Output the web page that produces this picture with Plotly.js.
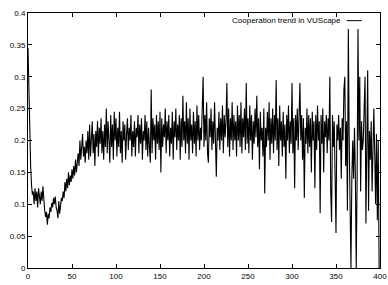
<!DOCTYPE html>
<html>
<head>
<meta charset="utf-8">
<script src="https://cdn.plot.ly/plotly-3.0.1.min.js"></script>
<style>html,body{margin:0;padding:0;background:#fff;}#chart{width:388px;height:285px;}</style>
</head>
<body>
<div id="chart"></div>
<script>
// Cooperation level per generation
var cooperation = [
  0.345, 0.27, 0.2, 0.16, 0.13, 0.115, 0.12, 0.1, 0.125, 0.105,
  0.12, 0.095, 0.125, 0.11, 0.1, 0.12, 0.105, 0.128, 0.1, 0.09,
  0.08, 0.088, 0.068, 0.085, 0.078, 0.095, 0.088, 0.102, 0.095, 0.11,
  0.1, 0.112, 0.095, 0.09, 0.078, 0.105, 0.085, 0.1, 0.11, 0.105,
  0.12, 0.11, 0.135, 0.12, 0.14, 0.125, 0.15, 0.13, 0.145, 0.135,
  0.155, 0.14, 0.16, 0.145, 0.17, 0.15, 0.165, 0.18, 0.16, 0.2,
  0.17, 0.185, 0.21, 0.175, 0.19, 0.165, 0.2, 0.18, 0.215, 0.17,
  0.225, 0.175, 0.2, 0.23, 0.18, 0.21, 0.16, 0.215, 0.19, 0.23,
  0.175, 0.22, 0.195, 0.235, 0.18, 0.215, 0.17, 0.225, 0.19, 0.25,
  0.18, 0.23, 0.2, 0.165, 0.24, 0.19, 0.225, 0.17, 0.245, 0.2,
  0.235, 0.175, 0.22, 0.19, 0.245, 0.18, 0.215, 0.165, 0.23, 0.2,
  0.225, 0.17, 0.21, 0.235, 0.185, 0.22, 0.2, 0.24, 0.175, 0.215,
  0.19, 0.23, 0.175, 0.22, 0.205, 0.24, 0.18, 0.225, 0.195, 0.235,
  0.17, 0.215, 0.2, 0.24, 0.185, 0.23, 0.175, 0.22, 0.19, 0.165,
  0.28, 0.18, 0.235, 0.2, 0.225, 0.17, 0.24, 0.195, 0.23, 0.185,
  0.245, 0.15, 0.235, 0.19, 0.225, 0.205, 0.25, 0.18, 0.23, 0.2,
  0.24, 0.175, 0.22, 0.195, 0.245, 0.17, 0.23, 0.205, 0.25, 0.185,
  0.225, 0.2, 0.24, 0.17, 0.235, 0.19, 0.27, 0.2, 0.23, 0.18,
  0.26, 0.195, 0.235, 0.17, 0.25, 0.2, 0.225, 0.18, 0.245, 0.195,
  0.23, 0.175, 0.255, 0.2, 0.24, 0.185, 0.22, 0.2, 0.25, 0.3,
  0.19, 0.24, 0.2, 0.26, 0.18, 0.165, 0.235, 0.205, 0.25, 0.185,
  0.23, 0.195, 0.26, 0.175, 0.143, 0.22, 0.2, 0.245, 0.185, 0.235,
  0.2, 0.255, 0.18, 0.24, 0.205, 0.23, 0.29, 0.19, 0.25, 0.175,
  0.235, 0.2, 0.26, 0.185, 0.24, 0.2, 0.23, 0.175, 0.255, 0.2,
  0.24, 0.19, 0.26, 0.18, 0.235, 0.205, 0.25, 0.185, 0.29, 0.195,
  0.235, 0.18, 0.255, 0.2, 0.24, 0.17, 0.23, 0.195, 0.25, 0.205,
  0.27, 0.19, 0.235, 0.155, 0.245, 0.2, 0.22, 0.175, 0.25, 0.117,
  0.22, 0.19, 0.245, 0.2, 0.26, 0.17, 0.235, 0.195, 0.25, 0.18,
  0.24, 0.2, 0.295, 0.185, 0.235, 0.16, 0.255, 0.2, 0.23, 0.175,
  0.245, 0.19, 0.225, 0.14, 0.24, 0.2, 0.255, 0.18, 0.23, 0.195,
  0.29, 0.18, 0.235, 0.125, 0.24, 0.2, 0.25, 0.185, 0.225, 0.29,
  0.2, 0.24, 0.17, 0.235, 0.11, 0.22, 0.195, 0.25, 0.18, 0.24,
  0.19, 0.235, 0.15, 0.245, 0.2, 0.23, 0.125, 0.24, 0.185, 0.255,
  0.2, 0.23, 0.086, 0.24, 0.195, 0.25, 0.15, 0.23, 0.205, 0.24,
  0.18, 0.235, 0.2, 0.3, 0.12, 0.072, 0.24, 0.19, 0.23, 0.16,
  0.055, 0.225, 0.2, 0.24, 0.185, 0.22, 0.14, 0.235, 0.2, 0.28,
  0.3, 0.16, 0.23, 0.09, 0.375, 0.2, 0.1, 0.0, 0.14, 0.2,
  0.14, 0.22, 0.145, 0.0, 0.14, 0.375, 0.2, 0.3, 0.12, 0.23,
  0.185, 0.2, 0.25, 0.3, 0.07, 0.23, 0.31, 0.09, 0.215, 0.17,
  0.23, 0.12, 0.2, 0.25, 0.18, 0.1, 0.21, 0.075, 0.2, 0.0
];
var generations = cooperation.map(function (_, i) { return i; });

var xTickVals = [0, 50, 100, 150, 200, 250, 300, 350, 400];
var xTickText = ["0", "50", "100", "150", "200", "250", "300", "350", "400"];
var yTickVals = [0, 0.05, 0.1, 0.15, 0.2, 0.25, 0.3, 0.35, 0.4];
var yTickText = ["0", "0.05", "0.1", "0.15", "0.2", "0.25", "0.3", "0.35", "0.4"];
var seriesName = "Cooperation trend in VUScape";

var font = {family: "Liberation Sans, Arial, sans-serif", size: 8, color: "#000"};

var trace = {
  x: generations,
  y: cooperation,
  type: "scatter",
  mode: "lines",
  name: seriesName,
  line: {color: "#000", width: 1.1},
  showlegend: false
};

var axisCommon = {
  showline: true, linecolor: "#000", linewidth: 1,
  mirror: "ticks", ticks: "inside", ticklen: 4, tickcolor: "#000", tickwidth: 1,
  showgrid: false, zeroline: false, tickfont: font, tickmode: "array"
};

var layout = {
  width: 388, height: 285,
  margin: {l: 28, r: 8, t: 13, b: 17, pad: 0},
  paper_bgcolor: "#fff", plot_bgcolor: "#fff",
  font: font,
  xaxis: Object.assign({}, axisCommon, {range: [0, 400], tickvals: xTickVals, ticktext: xTickText}),
  yaxis: Object.assign({}, axisCommon, {range: [0, 0.4], tickvals: yTickVals, ticktext: yTickText}),
  annotations: [{
    xref: "paper", yref: "paper", x: 0.895, y: 0.97,
    xanchor: "right", yanchor: "middle", showarrow: false,
    text: seriesName, font: font
  }],
  shapes: [{
    type: "line", xref: "paper", yref: "paper",
    x0: 0.905, x1: 0.948, y0: 0.97, y1: 0.97,
    line: {color: "#000", width: 1}
  }]
};

Plotly.newPlot("chart", [trace], layout, {displayModeBar: false, staticPlot: true});
</script>
</body>
</html>
